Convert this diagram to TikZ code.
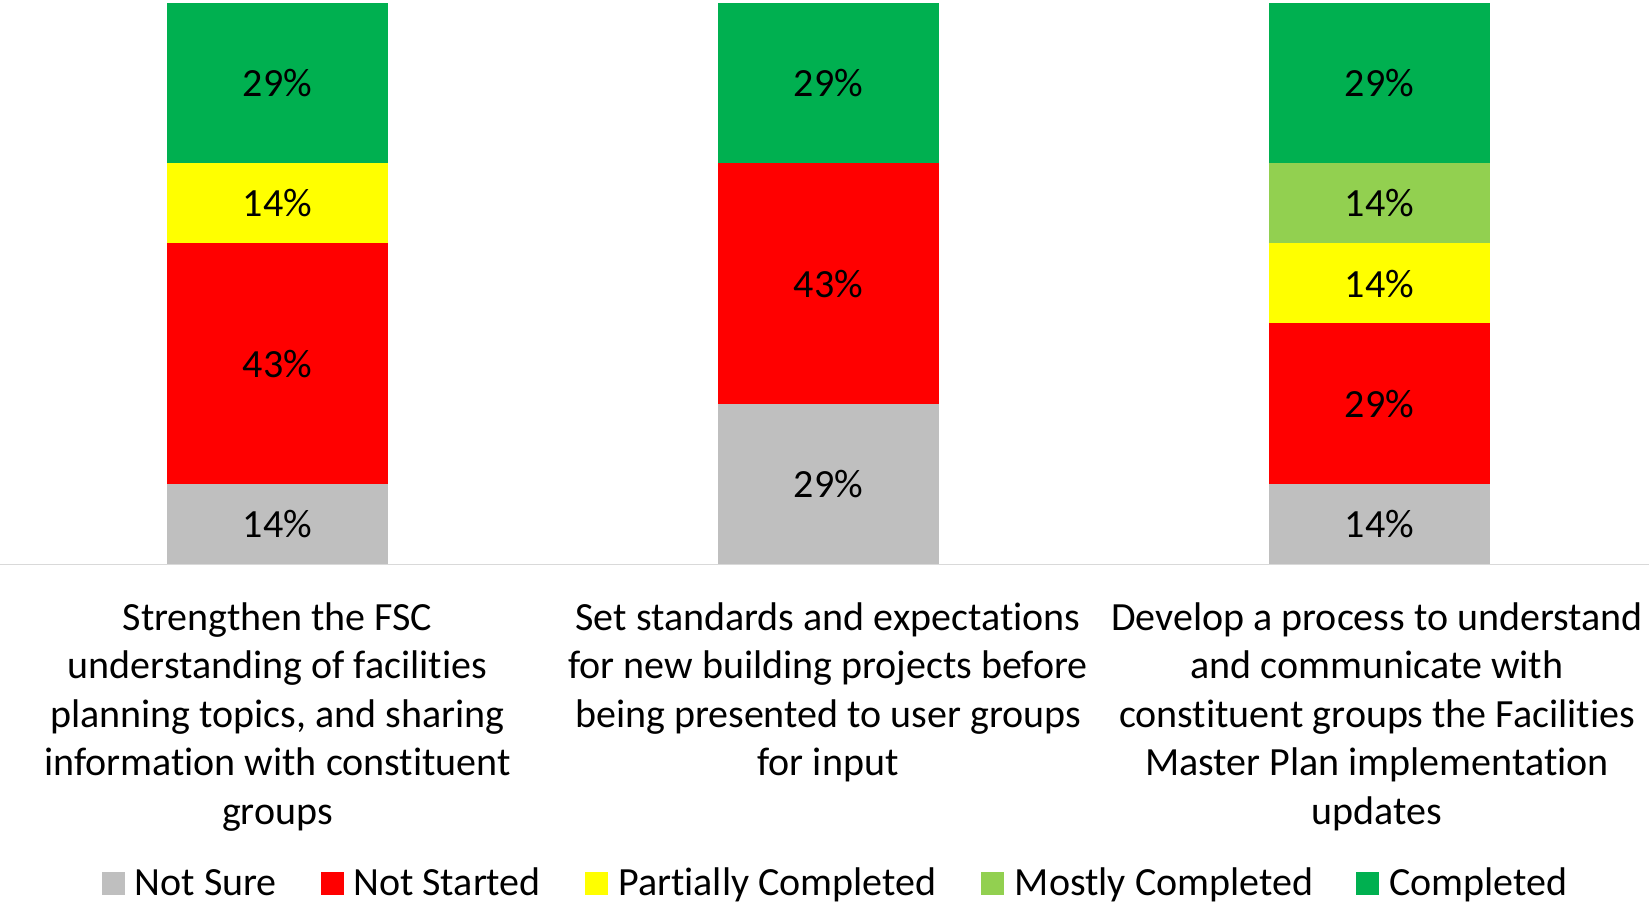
\documentclass[tikz,border=0pt]{standalone}
\usepackage{fontspec}
\setmainfont{Carlito}[Ligatures=NoCommon]
\definecolor{cNotSure}{HTML}{BFBFBF}
\definecolor{cNotStarted}{HTML}{FF0000}
\definecolor{cPartial}{HTML}{FFFF00}
\definecolor{cMostly}{HTML}{92D050}
\definecolor{cDone}{HTML}{00B050}
\definecolor{cAxis}{HTML}{D9D9D9}
\newcommand{\chartfont}{\fontsize{40}{48.5}\selectfont}
\newcommand{\nolig}{\kern0pt{}}
\begin{document}
\begin{tikzpicture}[x=1pt,y=-1pt,
  seg/.style={rectangle, draw=none, inner sep=0pt, minimum width=220.6pt,
    anchor=north west, text height=28pt, text depth=0pt, font=\chartfont},
  catline/.style={anchor=base, inner sep=0pt, font=\chartfont},
  keybox/.style={rectangle, draw=none, inner sep=0pt, minimum size=23pt, anchor=north west},
  keytext/.style={anchor=base west, inner sep=0pt, font=\chartfont}]
\useasboundingbox (0,0) rectangle (1649,903);

% axis
\coordinate (axL) at (0,564.6);
\coordinate (axR) at (1649,564.6);
\draw[cAxis, line width=1.6pt] (axL) -- (axR);

% bar 1
\node[seg, fill=cNotSure,    minimum height=80.4pt]  (b1ns) at (166.8,483.3) {14\%};
\node[seg, fill=cNotStarted, minimum height=240.7pt] (b1st) at (166.8,242.8) {43\%};
\node[seg, fill=cPartial,    minimum height=80.3pt]  (b1pc) at (166.8,162.6) {14\%};
\node[seg, fill=cDone,       minimum height=160.4pt] (b1co) at (166.8,2.3)   {29\%};

% bar 2
\node[seg, fill=cNotSure,    minimum height=160.5pt] (b2ns) at (717.8,403.2) {29\%};
\node[seg, fill=cNotStarted, minimum height=240.7pt] (b2st) at (717.8,162.6) {43\%};
\node[seg, fill=cDone,       minimum height=160.4pt] (b2co) at (717.8,2.3)   {29\%};

% bar 3
\node[seg, fill=cNotSure,    minimum height=80.4pt]  (b3ns) at (1269.0,483.3) {14\%};
\node[seg, fill=cNotStarted, minimum height=160.4pt] (b3st) at (1269.0,323.0) {29\%};
\node[seg, fill=cPartial,    minimum height=80.3pt]  (b3pc) at (1269.0,242.8) {14\%};
\node[seg, fill=cMostly,     minimum height=80.3pt]  (b3mc) at (1269.0,162.6) {14\%};
\node[seg, fill=cDone,       minimum height=160.4pt] (b3co) at (1269.0,2.3)   {29\%};

% category labels
\node[catline] (c1a) at (277.5,630.0) {Strengthen the FSC};
\node[catline] (c1b) at (277.5,678.5) {understanding of facilit\nolig ies};
\node[catline] (c1c) at (277.5,727.0) {planning topics, and sharing};
\node[catline] (c1d) at (277.5,775.5) {informat\nolig ion with constit\nolig uent};
\node[catline] (c1e) at (277.5,824.0) {groups};

\node[catline] (c2a) at (828.0,630.0) {Set standards and expectat\nolig ions};
\node[catline] (c2b) at (828.0,678.5) {for new building projects before};
\node[catline] (c2c) at (828.0,727.0) {being presented to user groups};
\node[catline] (c2d) at (828.0,775.5) {for input};

\node[catline] (c3a) at (1377.0,630.0) {Develop a process to understand};
\node[catline] (c3b) at (1377.0,678.5) {and communicate with};
\node[catline] (c3c) at (1377.0,727.0) {constit\nolig uent groups the Facilit\nolig ies};
\node[catline] (c3d) at (1377.0,775.5) {Master Plan implementat\nolig ion};
\node[catline] (c3e) at (1377.0,824.0) {updates};

% legend
\node[keybox, fill=cNotSure]    (k1) at (102.0,872.0) {};
\node[keytext] (t1) at (134.6,895.0) {Not Sure};
\node[keybox, fill=cNotStarted] (k2) at (320.7,872.0) {};
\node[keytext] (t2) at (353.0,895.0) {Not Started};
\node[keybox, fill=cPartial]    (k3) at (584.6,872.0) {};
\node[keytext] (t3) at (618.0,895.0) {Partially Completed};
\node[keybox, fill=cMostly]     (k4) at (981.0,872.0) {};
\node[keytext] (t4) at (1014.7,895.0) {Mostly Completed};
\node[keybox, fill=cDone]       (k5) at (1355.4,872.0) {};
\node[keytext] (t5) at (1389.0,895.0) {Completed};
\end{tikzpicture}
\end{document}
